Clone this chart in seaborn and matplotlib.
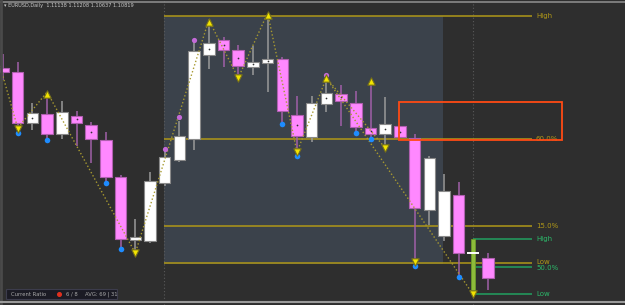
import matplotlib
matplotlib.use("Agg")
import matplotlib.pyplot as plt
import matplotlib.patches as mpatches
from matplotlib.lines import Line2D
import seaborn as sns
import pandas as pd
import numpy as np

# ---------------- data (EURUSD daily candles) ----------------
idx = list(range(34))
opens  = [1.1364, 1.1356, 1.1254, 1.1272, 1.1232, 1.1268, 1.1250, 1.1220, 1.1146, 1.1020,
          1.1018, 1.1134, 1.1180, 1.1222, 1.1390, 1.1420, 1.1400, 1.1366, 1.1374, 1.1382,
          1.1270, 1.1226, 1.1292, 1.1312, 1.1294, 1.1244, 1.1232, 1.1248, 1.1224, 1.1080,
          1.1028, 1.1110, np.nan, 1.0984]
highs  = [1.1392, 1.1376, 1.1294, 1.1314, 1.1298, 1.1278, 1.1256, 1.1236, 1.1150, 1.1062,
          1.1156, 1.1200, 1.1258, 1.1416, 1.1460, 1.1426, 1.1410, 1.1408, 1.1474, 1.1386,
          1.1308, 1.1308, 1.1344, 1.1330, 1.1318, 1.1340, 1.1306, 1.1248, 1.1232, 1.1188,
          1.1152, 1.1136, np.nan, 1.0994]
lows   = [1.1340, 1.1244, 1.1240, 1.1224, 1.1222, 1.1208, 1.1174, 1.1136, 1.1004, 1.0994,
          1.1014, 1.1128, 1.1176, 1.1200, 1.1362, 1.1366, 1.1340, 1.1350, 1.1316, 1.1256,
          1.1200, 1.1216, 1.1276, 1.1248, 1.1234, 1.1224, 1.1204, 1.1226, 1.0970, 1.1050,
          1.1018, 1.0950, np.nan, 1.0920]
closes = [1.1356, 1.1254, 1.1274, 1.1232, 1.1276, 1.1254, 1.1222, 1.1146, 1.1022, 1.1026,
          1.1138, 1.1186, 1.1228, 1.1398, 1.1414, 1.1400, 1.1368, 1.1376, 1.1382, 1.1278,
          1.1228, 1.1294, 1.1314, 1.1298, 1.1246, 1.1232, 1.1252, 1.1226, 1.1084, 1.1184,
          1.1118, 1.0994, np.nan, 1.0944]
dot_idx = [2, 5, 6, 14, 15, 16, 17, 18, 20, 22, 23, 25, 26, 27]

# current (live) bar
cur_idx, cur_high, cur_low, cur_close = 32, 1.1022, 1.0912, 1.0994

# signal markers
blue_x = [1, 3, 7, 8, 19, 20, 24, 25, 28, 31]
blue_y = [1.1234, 1.1220, 1.1134, 1.1002, 1.1252, 1.1188, 1.1234, 1.1222, 1.0968, 1.0946]
purple_x = [11, 12, 13, 22]
purple_y = [1.1202, 1.1266, 1.1420, 1.1350]
up_x = [3, 14, 18, 22, 25]
up_y = [1.1312, 1.1456, 1.1470, 1.1344, 1.1338]
down_x = [1, 9, 16, 20, 26, 28, 32]
down_y = [1.1242, 1.0994, 1.1344, 1.1196, 1.1204, 1.0976, 1.0912]

# zigzag
zz_x = [-0.2, 1, 3, 9, 14, 16, 18, 20, 22, 26]
zz_y = [1.1368, 1.1244, 1.1316, 1.0994, 1.1460, 1.1344, 1.1474, 1.1196, 1.1344, 1.1204]
zz2_x = [22, 32]
zz2_y = [1.1344, 1.0910]

# levels
gold_levels = [1.1468, 1.1222, 1.1048, 1.0974]
gold_labels = ["High", "60.0%", "15.0%", "Low"]
green_levels = [1.1022, 1.0966, 1.0912]
green_labels = ["High", "50.0%", "Low"]

title_text = "\u25BE EURUSD,Daily  1.11138 1.11208 1.10637 1.10819"
panel_texts = ["Current Ratio", "6 / 8", "AVG: 69 | 31"]

# ---------------- style ----------------
BG = "#2e2e2e"
SHADE = "#3b424b"
PINK = "#ff88ff"
PINK_EDGE = "#b060b0"
PINK_WICK = "#a060a8"
WHITE_EDGE = "#8a8a8a"
WHITE_WICK = "#9a9a9a"
GOLD = "#b09818"
GREEN = "#22a060"

sns.set_theme(style="dark", rc={"axes.facecolor": BG, "figure.facecolor": BG})
plt.rcParams['font.family'] = ['DejaVu Sans']

W, H = 625, 305
fig = plt.figure(figsize=(W / 100, H / 100), dpi=100)
ax = fig.add_axes([0, 0, 1, 1])
ax.set_facecolor(BG)

def px2x(px):
    return (px - 3) / 14.7

def py2p(py):
    return 1.15 - 0.0002 * py

ax.set_xlim(px2x(0), px2x(W))
ax.set_ylim(py2p(H), py2p(0))
ax.set_axis_off()

# shaded zone
x0, x1 = px2x(164), px2x(443)
ax.add_patch(mpatches.Rectangle((x0, gold_levels[3] - 0.0002), x1 - x0,
                                gold_levels[0] - gold_levels[3] + 0.0002,
                                facecolor=SHADE, edgecolor="none", zorder=0))

# vertical dotted separators
for vx in [px2x(164), px2x(473)]:
    ax.axvline(vx, color="#5a5a5a", lw=0.8, ls=(0, (1, 2)), zorder=1)

# gold levels
gx1 = px2x(532)
gold_va = ["center", "center", "center", "bottom"]
for lv, lb, va in zip(gold_levels, gold_labels, gold_va):
    ax.hlines(lv, x0, gx1, color=GOLD, lw=1.1, zorder=1)
    ty = lv - 0.0003 if va == "bottom" else lv
    ax.text(px2x(536), ty, lb, color=GOLD, fontsize=5, va=va, ha="left", zorder=6)

# green levels
green_va = ["center", "top", "center"]
for lv, lb, va in zip(green_levels, green_labels, green_va):
    ax.hlines(lv, px2x(473), gx1, color=GREEN, lw=1.1, zorder=1)
    ty = lv + 0.0003 if va == "top" else lv
    ax.text(px2x(536), ty, lb, color="#2cb86a", fontsize=5, va=va, ha="left", zorder=6)

# candles
df = pd.DataFrame({"i": idx, "o": opens, "h": highs, "l": lows, "c": closes}).dropna()
bw = 11.5 / 14.7
for _, r in df.iterrows():
    bull = r.c >= r.o
    fc = "#ffffff" if bull else PINK
    ec = WHITE_EDGE if bull else PINK_EDGE
    wc = WHITE_WICK if bull else PINK_WICK
    ax.vlines(r.i, r.l, r.h, color=wc, lw=1.1, zorder=2)
    bot = min(r.o, r.c)
    hgt = max(abs(r.c - r.o), 0.0006)
    ax.bar(r.i, hgt, bottom=bot, width=bw, color=fc, edgecolor=ec, linewidth=0.8, zorder=3)

# small dots in bodies
dd = df[df.i.isin(dot_idx)]
ax.scatter(dd.i, (dd.o + dd.c) / 2, s=1.5, color="#333333", zorder=4, linewidths=0)

# current bar
ax.bar(cur_idx, cur_high - cur_low, bottom=cur_low, width=4 / 14.7, color="#8dbb3a",
       edgecolor="#6c9a2a", linewidth=0.6, zorder=3)
ax.hlines(cur_close, cur_idx - 6 / 14.7, cur_idx + 6 / 14.7, color="#ffffff", lw=1.4, zorder=4)

# zigzag lines (dotted)
zz = pd.DataFrame({"x": zz_x, "y": zz_y})
sns.lineplot(data=zz, x="x", y="y", ax=ax, sort=False, estimator=None,
             color="#a89a30", lw=1.0, zorder=5)
ax.lines[-1].set_linestyle((0, (1, 1.6)))
zz2 = pd.DataFrame({"x": zz2_x, "y": zz2_y})
sns.lineplot(data=zz2, x="x", y="y", ax=ax, sort=False, estimator=None,
             color="#a89a30", lw=1.0, zorder=5)
ax.lines[-1].set_linestyle((0, (1, 1.6)))

# markers
sns.scatterplot(x=blue_x, y=blue_y, ax=ax, color="#1e8cff", s=16, marker="o",
                linewidth=0, zorder=6)
sns.scatterplot(x=purple_x, y=purple_y, ax=ax, color="#c46ad8", s=14, marker="o",
                linewidth=0, zorder=6)
sns.scatterplot(x=up_x, y=up_y, ax=ax, color="#f2e400", s=28, marker="^",
                edgecolor="#77701a", linewidth=0.8, zorder=7)
sns.scatterplot(x=down_x, y=down_y, ax=ax, color="#f2e400", s=28, marker="v",
                edgecolor="#77701a", linewidth=0.8, zorder=7)

# red box
rx0, rx1 = px2x(399), px2x(562)
ax.add_patch(mpatches.Rectangle((rx0, py2p(140)), rx1 - rx0, py2p(102) - py2p(140),
                                facecolor="none", edgecolor="#ff4a14", lw=1.3, zorder=8))

# frame lines (figure pixels)
def fx(px):
    return px / W

def fy(py):
    return 1 - py / H

fig.add_artist(Line2D([0, 1], [fy(1.5), fy(1.5)], color="#8a8a8a", lw=1.2))
fig.add_artist(Line2D([fx(1.2), fx(1.2)], [0, 1], color="#4a4a4a", lw=2.0))
fig.add_artist(Line2D([0, 1], [fy(301.5), fy(301.5)], color="#9a9a9a", lw=1.5))

# title
fig.text(fx(4), fy(5.5), title_text, color="#c8c8c8", fontsize=3.6, va="center", ha="left")

# bottom panel
fig.add_artist(mpatches.Rectangle((fx(6), fy(299)), fx(111), 10 / H,
                                  facecolor="#1b1b24", edgecolor="#3c3c4c", lw=0.8))
fig.text(fx(11), fy(294), panel_texts[0], color="#a8a8a8", fontsize=3.8, va="center", ha="left")
fig.add_artist(Line2D([fx(59)], [fy(294)], marker="o", color="#e0301e", markersize=2.6, lw=0))
fig.text(fx(66), fy(294), panel_texts[1], color="#a8a8a8", fontsize=3.8, va="center", ha="left")
fig.text(fx(85), fy(294), panel_texts[2], color="#a8a8a8", fontsize=3.8, va="center", ha="left")

fig.savefig("out.png", dpi=100, facecolor=BG)
